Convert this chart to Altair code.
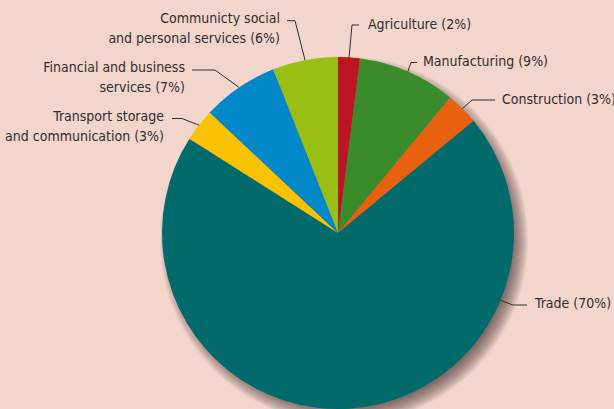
import math
import altair as alt
import pandas as pd

# ---- data ----
sectors = ["Agriculture", "Manufacturing", "Construction", "Trade",
           "Transport storage and communication", "Financial and business services",
           "Communicty social and personal services"]
shares = [2, 9, 3, 70, 3, 7, 6]
colors = ["#BE1522", "#3A8B2A", "#E8610F", "#006B6A", "#F9C200", "#0088C9", "#9ABF14"]
label_lines = [["Agriculture (2%)"], ["Manufacturing (9%)"], ["Construction (3%)"],
               ["Trade (70%)"], ["Transport storage", "and communication (3%)"],
               ["Financial and business", "services (7%)"],
               ["Communicty social", "and personal services (6%)"]]

# ---- layout ----
CX, CY, R = 338, 233, 176
BG = "#F2D6CC"
FONT = "DejaVu Sans Condensed"
TXT = "#2E2E2E"
# per-label: (angle override or None, elbow, end, text x, first line y, align)
layout = [
    (None, (352, 25), (359, 25), 368, 25, "left"),
    (None, (411, 62.5), (417, 62.5), 423, 62, "left"),
    (None, (472, 100), (495, 100), 502, 100, "left"),
    (112.5, (513, 305), (527, 305), 535, 304, "left"),
    (None, (182, 118.5), (172, 118.5), 164, 117, "right"),
    (None, (215, 70), (192, 70), 185, 68, "right"),
    (None, (295, 20.7), (287, 20.7), 280, 19, "right"),
]
LINE_H = 20

pie_df = pd.DataFrame({"sector": sectors, "share": shares, "idx": range(len(sectors))})

total = sum(shares)
cum = 0
line_rows, text_rows = [], []
for i, (s, lab, lay) in enumerate(zip(shares, label_lines, layout)):
    mid = (cum + s / 2) / total * 360
    cum += s
    ang, elbow, end, tx, ty, al = lay
    a = math.radians(ang if ang is not None else mid)
    sx, sy = CX + R * math.sin(a), CY - R * math.cos(a)
    for k, (px, py) in enumerate([(sx, sy), elbow, end]):
        line_rows.append({"id": i, "k": k, "x": px, "y": py})
    for j, t in enumerate(lab):
        text_rows.append({"text": t, "x": tx, "y": ty + j * LINE_H, "align": al})

line_df = pd.DataFrame(line_rows)
text_df = pd.DataFrame(text_rows)
one = pd.DataFrame({"v": [1]})

# soft drop shadow: stacked translucent discs, offset down-right
shadow_layers = [
    alt.Chart(one).mark_arc(
        color="#3C2A24", opacity=0.05, outerRadius=R + k, theta=0, theta2=2 * math.pi
    ).encode(x=alt.value(CX + 6), y=alt.value(CY + 7))
    for k in range(-8, 9)
]

pie = alt.Chart(pie_df).mark_arc(outerRadius=R).encode(
    theta=alt.Theta("share:Q", stack=True),
    order=alt.Order("idx:Q"),
    color=alt.Color("sector:N", scale=alt.Scale(domain=sectors, range=colors), legend=None),
    x=alt.value(CX), y=alt.value(CY),
)

lines = alt.Chart(line_df).mark_line(color=TXT, strokeWidth=1).encode(
    x=alt.X("x:Q", scale=None, axis=None),
    y=alt.Y("y:Q", scale=None, axis=None),
    detail="id:N",
    order="k:Q",
)

def text_layer(al):
    return alt.Chart(text_df[text_df["align"] == al]).mark_text(
        align=al, baseline="middle", font=FONT, fontSize=14, color=TXT
    ).encode(
        x=alt.X("x:Q", scale=None, axis=None),
        y=alt.Y("y:Q", scale=None, axis=None),
        text="text:N",
    )

chart = alt.layer(*shadow_layers, pie, lines, text_layer("left"), text_layer("right")).properties(
    width=614, height=409, autosize=alt.AutoSizeParams(type="none"), padding=0,
    background=BG,
).configure_view(stroke=None)

chart.save("out.html", embed_options={"renderer": "svg", "actions": False})
